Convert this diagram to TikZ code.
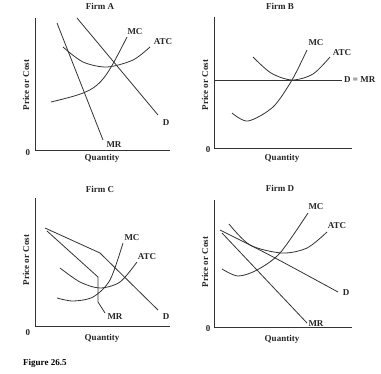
\documentclass[tikz,border=0pt]{standalone}
\usepackage{fontspec}
\setmainfont{Liberation Serif}
\begin{document}
\begin{tikzpicture}[x=1pt,y=-1pt,
  curve/.style={line width=0.8pt,draw=black!80},
  axis/.style={line width=0.8pt,draw=black!80},
  lbl/.style={font=\fontsize{9}{10}\selectfont\bfseries,inner sep=0pt,text=black!85},
  ttl/.style={font=\fontsize{9}{10}\selectfont\bfseries,inner sep=0pt,text=black!85},
  ylbl/.style={font=\fontsize{9}{10}\selectfont\bfseries,inner sep=0pt,rotate=90,text=black!85}]
\useasboundingbox (0,0) rectangle (381,373);
% ---------- Firm A ----------
\node[ttl] (tA) at (100,6) {Firm A};
\coordinate (Ay) at (35,18); \coordinate (Ao) at (35,150); \coordinate (Ax) at (170,150);
\draw[axis] (Ay) -- (Ao) -- (Ax);
\node[lbl] (zA) at (28,153) {0};
\node[lbl] (qA) at (102,158) {Quantity};
\node[ylbl] (pA) at (26,85) {Price or Cost};
\coordinate (AMR1) at (57,23); \coordinate (AMR2) at (103,140);
\draw[curve] (AMR1) -- (AMR2);
\node[lbl] (lAMR) at (114,145) {MR};
\coordinate (AD1) at (77,18); \coordinate (AD2) at (158,115);
\draw[curve] (AD1) -- (AD2);
\node[lbl] (lAD) at (166,123) {D};
\draw[curve] (51,102) .. controls (100,90) .. (127,37);
\node[lbl] (lAMC) at (135,32) {MC};
\draw[curve] plot[smooth] coordinates {(63,47) (83,62) (107,67) (133,60) (150,47)};
\node[lbl] (lAATC) at (163,42) {ATC};
% ---------- Firm B ----------
\node[ttl] (tB) at (280,6) {Firm B};
\coordinate (By) at (214,17); \coordinate (Bo) at (214,148); \coordinate (Bx) at (352,148);
\draw[axis] (By) -- (Bo) -- (Bx);
\node[lbl] (zB) at (208,150) {0};
\node[lbl] (qB) at (282,158) {Quantity};
\node[ylbl] (pB) at (205,85) {Price or Cost};
\coordinate (BD1) at (214,80); \coordinate (BD2) at (342,80);
\draw[curve] (BD1) -- (BD2);
\node[lbl,anchor=west] (lBD) at (344,80) {D = MR};
\draw[curve] plot[smooth] coordinates {(232,113) (248,121) (273,107) (292,80) (307,50)};
\node[lbl] (lBMC) at (316,43) {MC};
\draw[curve] plot[smooth] coordinates {(253,57) (271,73) (292,80) (313,74) (330,57)};
\node[lbl] (lBATC) at (342,53) {ATC};
% ---------- Firm C ----------
\node[ttl] (tC) at (100,189) {Firm C};
\coordinate (Cy) at (35,198); \coordinate (Co) at (35,326); \coordinate (Cx) at (170,326);
\draw[axis] (Cy) -- (Co) -- (Cx);
\node[lbl] (zC) at (28,333) {0};
\node[lbl] (qC) at (102,338) {Quantity};
\node[ylbl] (pC) at (26,260) {Price or Cost};
\coordinate (CD1) at (45,228); \coordinate (CDk) at (100,253); \coordinate (CD2) at (158,310);
\draw[curve] (CD1) -- (CDk) -- (CD2);
\node[lbl] (lCD) at (166,317) {D};
\coordinate (CMR1) at (47,231); \coordinate (CMRa) at (98,277); \coordinate (CMRb) at (98,302); \coordinate (CMR2) at (105,313);
\draw[curve] (CMR1) -- (CMRa) -- (CMRb) -- (CMR2);
\node[lbl] (lCMR) at (115,317) {MR};
\draw[curve] plot[smooth] coordinates {(57,298) (73,301) (93,297) (110,280) (123,243)};
\node[lbl] (lCMC) at (132,238) {MC};
\draw[curve] plot[smooth] coordinates {(60,268) (80,282) (100,288) (120,282) (137,262)};
\node[lbl] (lCATC) at (147,257) {ATC};
% ---------- Firm D ----------
\node[ttl] (tD) at (280,188) {Firm D};
\coordinate (Dy) at (214,200); \coordinate (Do) at (214,327); \coordinate (Dx) at (352,327);
\draw[axis] (Dy) -- (Do) -- (Dx);
\node[lbl] (zD) at (208,329) {0};
\node[lbl] (qD) at (282,339) {Quantity};
\node[ylbl] (pD) at (205,262) {Price or Cost};
\draw[curve] plot[smooth] coordinates {(222,269) (238,276) (257,270) (280,253) (308,213)};
\node[lbl] (lDMC) at (316,207) {MC};
\draw[curve] plot[smooth] coordinates {(229,224) (250,245) (282,253) (307,248) (327,232)};
\node[lbl] (lDATC) at (337,226) {ATC};
\coordinate (DD1) at (220,230); \coordinate (DD2) at (338,292);
\draw[curve] (DD1) .. controls (270,255) .. (DD2);
\node[lbl] (lDD) at (346,293) {D};
\coordinate (DMR1) at (222,233); \coordinate (DMR2) at (307,323);
\draw[curve] (DMR1) -- (DMR2);
\node[lbl] (lDMR) at (316,324) {MR};
% ---------- caption ----------
\node[font=\fontsize{9}{10}\selectfont\bfseries,inner sep=0pt,anchor=west] (cap) at (23,363) {Figure 26.5};
\end{tikzpicture}
\end{document}
